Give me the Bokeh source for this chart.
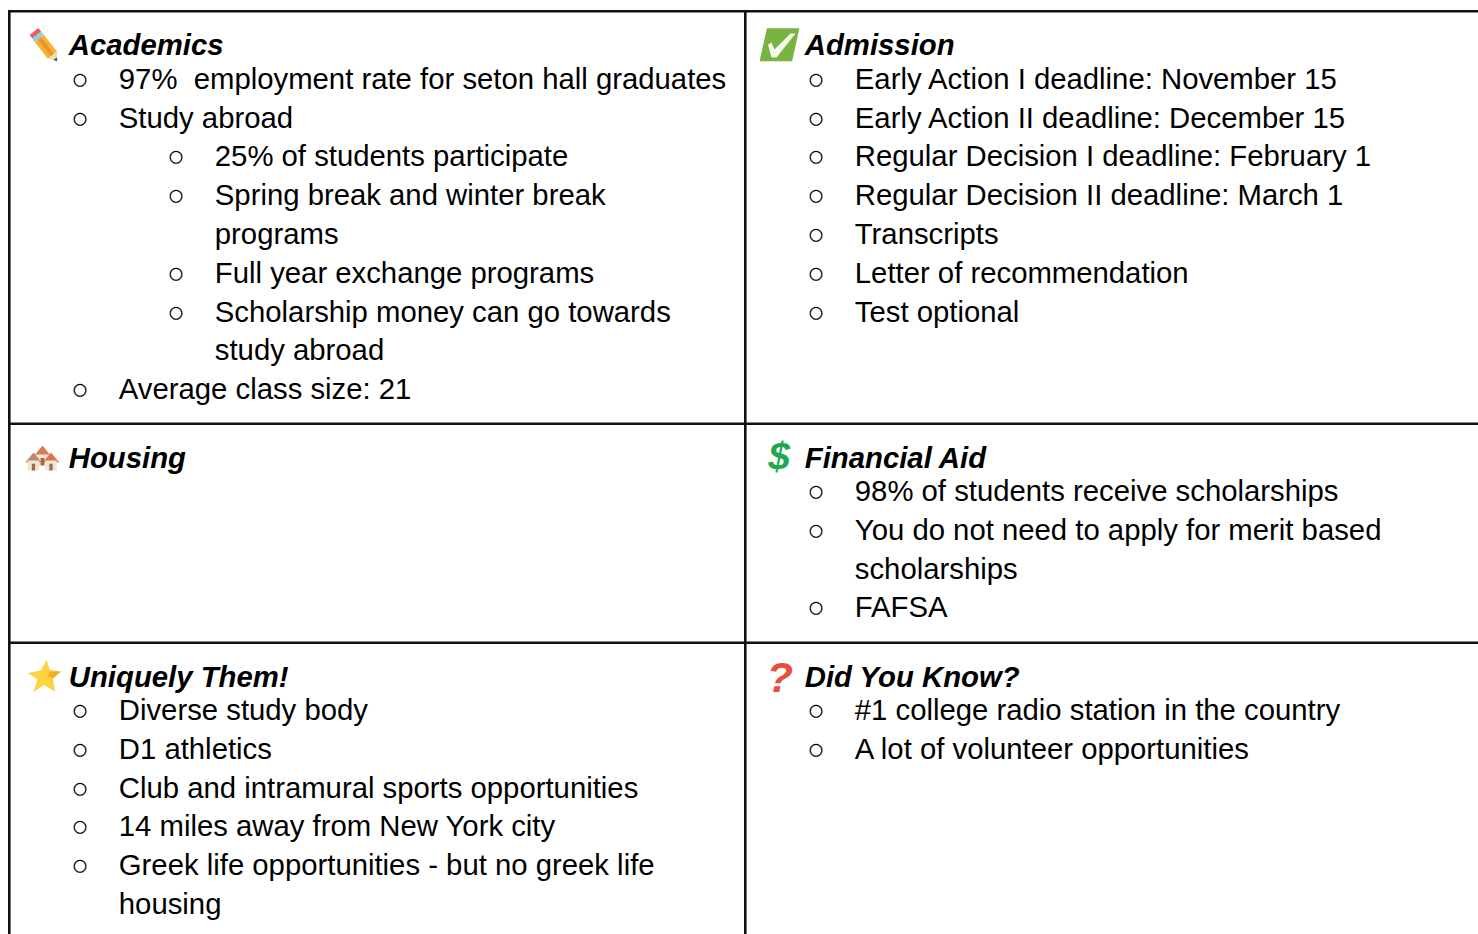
from bokeh.plotting import figure
from bokeh.models import Range1d, ColumnDataSource
from bokeh.core.properties import value
from bokeh.embed import file_html
from bokeh.resources import INLINE

# ---- content -----------------------------------------------------------
academics_title = "Academics"
academics_lines = [
    (0, "97%\u00a0 employment rate for seton hall graduates"),
    (0, "Study abroad"),
    (1, "25% of students participate"),
    (1, "Spring break and winter break"),
    (2, "programs"),
    (1, "Full year exchange programs"),
    (1, "Scholarship money can go towards"),
    (2, "study abroad"),
    (0, "Average class size: 21"),
]
admission_title = "Admission"
admission_lines = [
    (0, "Early Action I deadline: November 15"),
    (0, "Early Action II deadline: December 15"),
    (0, "Regular Decision I deadline: February 1"),
    (0, "Regular Decision II deadline: March 1"),
    (0, "Transcripts"),
    (0, "Letter of recommendation"),
    (0, "Test optional"),
]
housing_title = "Housing"
housing_lines = []
aid_title = "Financial Aid"
aid_lines = [
    (0, "98% of students receive scholarships"),
    (0, "You do not need to apply for merit based"),
    (3, "scholarships"),
    (0, "FAFSA"),
]
unique_title = "Uniquely Them!"
unique_lines = [
    (0, "Diverse study body"),
    (0, "D1 athletics"),
    (0, "Club and intramural sports opportunities"),
    (0, "14 miles away from New York city"),
    (0, "Greek life opportunities - but no greek life"),
    (3, "housing"),
]
know_title = "Did You Know?"
know_lines = [
    (0, "#1 college radio station in the country"),
    (0, "A lot of volunteer opportunities"),
]

# ---- layout (page pixels of the reference) ---------------------------------
W, H = 1478, 934
COL_X = [8.8, 744.8]
ROW_Y = [10.7, 423.3, 642.3]
TITLE_BASE = [44, 457, 676]
LINE_PITCH = 38.8
FONT = "Liberation Sans"
BODY = "29.3px"

p = figure(width=W, height=H, x_range=Range1d(0, W), y_range=Range1d(H, 0),
           toolbar_location=None, output_backend="svg", min_border=0)
p.axis.visible = False
p.grid.visible = False
p.outline_line_color = None
p.background_fill_color = "white"
p.border_fill_color = "white"


def section(col, row, title, lines, first_offset):
    x0 = COL_X[col]
    base = TITLE_BASE[row]
    p.text([x0 + 59.5], [base], text=[title], text_font=value(FONT), text_font_size="29.3px",
           text_font_style="bold italic", text_color="#000000", text_baseline="alphabetic", text_align="left")
    tx, ty, bx, by = [], [], [], []
    for i, (kind, txt) in enumerate(lines):
        y = base + first_offset + i * LINE_PITCH
        indent = {0: 109.5, 1: 205.5, 2: 205.5, 3: 109.5}[kind]
        tx.append(x0 + indent)
        ty.append(y)
        if kind in (0, 1):
            bx.append(x0 + indent - 39)
            by.append(y)
    src = ColumnDataSource(dict(x=tx, y=ty, t=[l[1] for l in lines]))
    p.text("x", "y", text="t", source=src, text_font=value(FONT), text_font_size=BODY,
           text_color="#000000", text_baseline="alphabetic", text_align="left")
    p.text(bx, by, text=["○"] * len(bx), text_font=value(FONT), text_font_size=BODY,
           text_color="#000000", text_baseline="alphabetic", text_align="center")


section(0, 0, academics_title, academics_lines, 33.7)
section(1, 0, admission_title, admission_lines, 33.7)
section(0, 1, housing_title, housing_lines, 33)
section(1, 1, aid_title, aid_lines, 33)
section(0, 2, unique_title, unique_lines, 33)
section(1, 2, know_title, know_lines, 33)

# ---- table rules --------------------------------------------------------------
for y in ROW_Y:
    p.segment([8], [y], [W], [y], line_color="#111111", line_width=2.6)
for x in COL_X:
    p.segment([x], [9.4], [x], [H], line_color="#111111", line_width=2.6)


# ---- emoji drawn as small vector icons -----------------------------------------
def stripe(a, b, hw, t0, t1, color, t1_hw=None):
    dx, dy = b[0] - a[0], b[1] - a[1]
    n = (dx * dx + dy * dy) ** 0.5
    nx, ny = -dy / n, dx / n
    e = hw if t1_hw is None else t1_hw
    xs = [a[0] + dx * t0 + nx * hw, a[0] + dx * t1 + nx * e, a[0] + dx * t1 - nx * e, a[0] + dx * t0 - nx * hw]
    ys = [a[1] + dy * t0 + ny * hw, a[1] + dy * t1 + ny * e, a[1] + dy * t1 - ny * e, a[1] + dy * t0 - ny * hw]
    p.patch(xs, ys, fill_color=color, line_color=None)


# pencil
A, B = (33.5, 31), (56.5, 60.5)
stripe(A, B, 5.6, 0.0, 0.12, "#ee5a66")
stripe(A, B, 5.8, 0.12, 0.24, "#8fd0dc")
stripe(A, B, 5.8, 0.24, 0.8, "#f6b52e")
stripe(A, B, 2.0, 0.24, 0.8, "#e8952a")
stripe(A, B, 5.8, 0.8, 0.92, "#f3dcb4", 2.2)
stripe(A, B, 2.2, 0.92, 1.0, "#555555", 0.4)

# check box
p.patch([767, 798, 791, 760], [28.5, 28.5, 60, 60], fill_color="#79b443", line_color="#79b443", line_width=1.5,
        line_join="round")
p.patch([767.5, 771, 774, 790, 795, 776, 771], [44, 42, 49, 33, 33, 57, 57], fill_color="#f4f9ee", line_color=None)


# houses
def house(cx, top, w, h, roof="#d9744a", wall="#f3e3d3", door="#9c6a4c"):
    p.patch([cx - w / 2 - 2.5, cx, cx + w / 2 + 2.5], [top + h * 0.55, top, top + h * 0.55], fill_color=roof, line_color=None)
    p.patch([cx - w / 2, cx + w / 2, cx + w / 2, cx - w / 2], [top + h * 0.45, top + h * 0.45, top + h, top + h],
            fill_color=wall, line_color=None)
    p.patch([cx - w / 7, cx + w / 7, cx + w / 7, cx - w / 7], [top + h * 0.62, top + h * 0.62, top + h, top + h],
            fill_color=door, line_color=None)


house(42, 445, 13, 20, roof="#dd7b52")
house(33, 452, 11.5, 18, roof="#b98a76")
house(50.5, 452, 11.5, 18)

# dollar, question mark
p.text([778.5], [456], text=["$"], text_font=value("Liberation Sans"), text_font_size="39px",
       text_font_style="bold italic", text_color="#1fa851", text_align="center", text_baseline="alphabetic")
p.text([779.5], [676], text=["?"], text_font=value("Liberation Sans"), text_font_size="43px",
       text_font_style="bold italic", text_color="#ea4c42", text_align="center", text_baseline="alphabetic")

# star
p.patch([46, 49.5, 60.5, 52.5, 54.5, 43.5, 33, 37, 27.5, 40.5],
        [659.5, 669.5, 671, 678, 691, 684.5, 691.5, 679, 672.5, 670],
        fill_color="#fdd33f", line_color=None)
p.patch([49.5, 60.5, 52.5, 47], [671, 671, 678, 676], fill_color="#f3ab2e", line_color=None)

open("out.html", "w").write(file_html(p, INLINE))
